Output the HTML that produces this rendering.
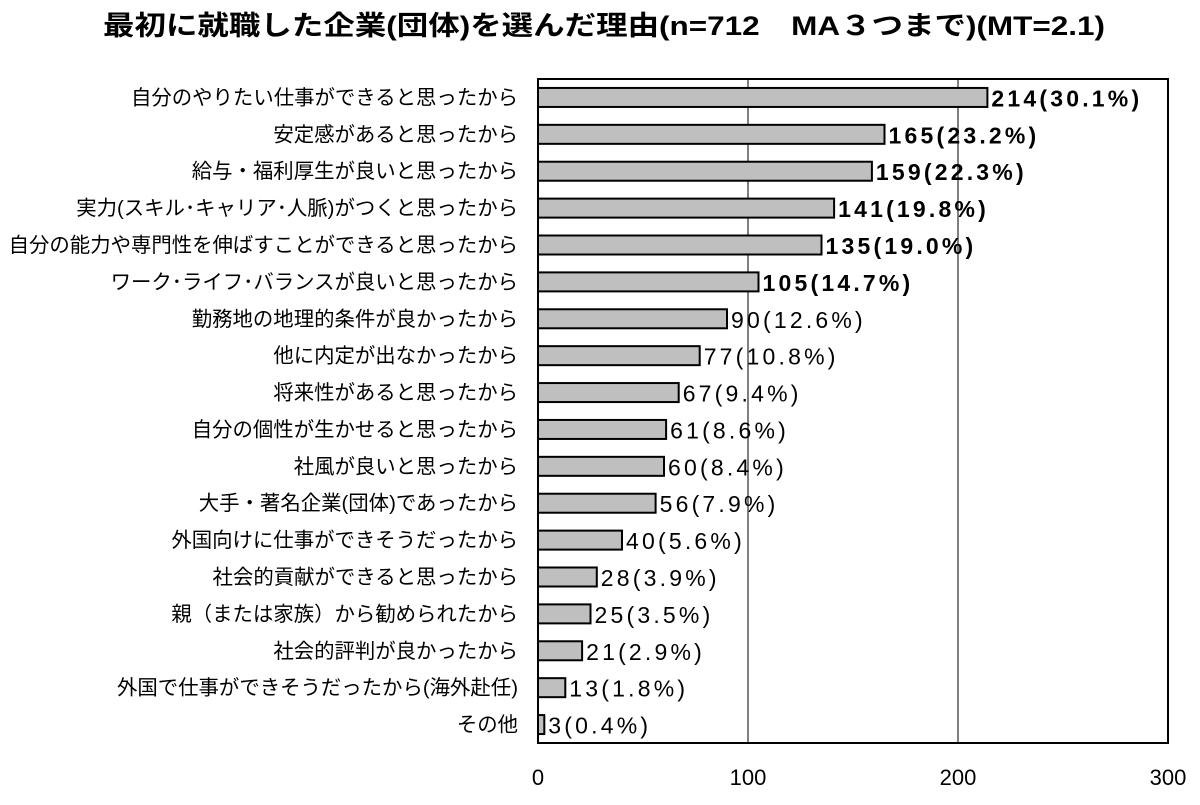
<!DOCTYPE html>
<html><head><meta charset="utf-8">
<style>
body{margin:0;background:#fff;}
svg text{font-family:"Liberation Sans","Noto Sans CJK JP",sans-serif;}
</style></head>
<body>
<svg width="1200" height="800" xmlns="http://www.w3.org/2000/svg">
<text x="103" y="35" font-size="27" font-weight="bold" textLength="1002" lengthAdjust="spacingAndGlyphs">最初に就職した企業(団体)を選んだ理由(n=712　MA３つまで)(MT=2.1)</text>
<g id="grid"></g>
<g id="bars"></g>
<rect x="538" y="79" width="630" height="664" fill="none" stroke="#000" stroke-width="2"/>
<g id="ticks"></g>
</svg>
<script>
const categories=["自分のやりたい仕事ができると思ったから","安定感があると思ったから","給与・福利厚生が良いと思ったから","実力(スキル･キャリア･人脈)がつくと思ったから","自分の能力や専門性を伸ばすことができると思ったから","ワーク･ライフ･バランスが良いと思ったから","勤務地の地理的条件が良かったから","他に内定が出なかったから","将来性があると思ったから","自分の個性が生かせると思ったから","社風が良いと思ったから","大手・著名企業(団体)であったから","外国向けに仕事ができそうだったから","社会的貢献ができると思ったから","親（または家族）から勧められたから","社会的評判が良かったから","外国で仕事ができそうだったから(海外赴任)","その他"];
const values=[214,165,159,141,135,105,90,77,67,61,60,56,40,28,25,21,13,3];
const percents=["30.1","23.2","22.3","19.8","19.0","14.7","12.6","10.8","9.4","8.6","8.4","7.9","5.6","3.9","3.5","2.9","1.8","0.4"];
const tickValues=[0,100,200,300];
const NS="http://www.w3.org/2000/svg";
const x0=538,x1=1168,y0=79,y1=743,xmax=300;
const xs=v=>x0+(v/xmax)*(x1-x0);
const band=(y1-y0)/categories.length;
const yc=i=>y0+band*(i+0.5);
function mk(t,a,p){const e=document.createElementNS(NS,t);for(const k in a)e.setAttribute(k,a[k]);p.appendChild(e);return e;}
const grid=document.getElementById('grid'),bars=document.getElementById('bars'),ticks=document.getElementById('ticks');
tickValues.forEach(v=>{
 if(v>0&&v<xmax){const l=mk('line',{x1:xs(v),x2:xs(v),y1:y0,y2:y1,stroke:'#7f7f7f','stroke-width':2},grid);
 
 }
 const t=mk('text',{x:xs(v),y:785,'text-anchor':'middle','font-size':22},ticks);t.textContent=v;
 
 
});
categories.forEach((c,i)=>{
 const y=yc(i);
 const r=mk('rect',{x:x0,y:y-9.5,width:xs(values[i])-x0,height:19,fill:'#bfbfbf',stroke:'#000','stroke-width':2},bars);
 
 
 const l=mk('text',{x:518,y:y+7,'text-anchor':'end','font-size':20.4},bars);l.textContent=c;
 
 
 const v=mk('text',{x:xs(values[i])+4,y:y+9,'font-size':23,'letter-spacing':3.2,'font-weight':i<6?'bold':'normal'},bars);
 v.textContent=values[i]+'('+percents[i]+'%)';
 
 
});
</script>
</body></html>
